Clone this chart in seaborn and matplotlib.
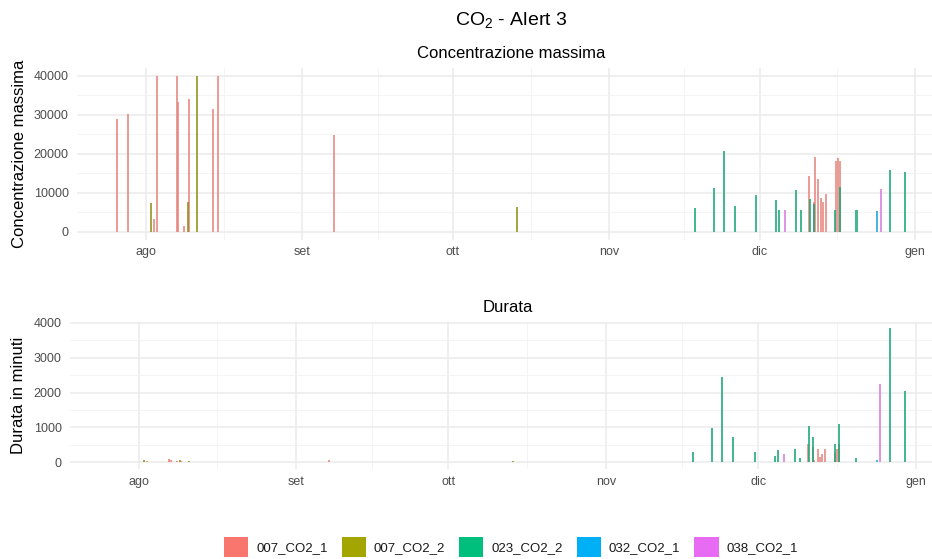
import numpy as np
import pandas as pd
import matplotlib
matplotlib.use("Agg")
import matplotlib.pyplot as plt
import seaborn as sns
from matplotlib.patches import Patch

# ---------------- data ----------------
series_names = ["007_CO2_1", "007_CO2_2", "023_CO2_2", "032_CO2_1", "038_CO2_1"]
series_colors = ["#F8766D", "#A3A500", "#00BF7D", "#00B0F6", "#E76BF3"]

event_time = [
    "2023-07-26 05:00", "2023-07-28 10:00", "2023-08-02 00:00", "2023-08-02 14:00",
    "2023-08-03 02:00", "2023-08-07 02:00", "2023-08-07 07:00", "2023-08-08 12:00",
    "2023-08-09 05:00", "2023-08-09 10:00", "2023-08-11 00:00", "2023-08-14 05:00",
    "2023-08-15 05:00", "2023-09-07 10:00", "2023-10-13 19:00", "2023-11-18 02:00",
    "2023-11-21 22:00", "2023-11-23 22:00", "2023-11-26 02:00", "2023-11-30 07:00",
    "2023-12-04 07:00", "2023-12-04 22:00", "2023-12-06 02:00", "2023-12-08 07:00",
    "2023-12-09 05:00", "2023-12-10 22:00", "2023-12-11 02:00", "2023-12-11 19:00",
    "2023-12-11 19:00", "2023-12-12 02:00", "2023-12-12 17:00", "2023-12-13 05:00",
    "2023-12-13 14:00", "2023-12-14 05:00", "2023-12-16 02:00", "2023-12-16 05:00",
    "2023-12-16 14:00", "2023-12-16 22:00", "2023-12-17 00:00", "2023-12-20 07:00",
    "2023-12-24 10:00", "2023-12-25 02:00", "2023-12-26 22:00", "2023-12-30 00:00",
]
event_sensor = [
    "007_CO2_1", "007_CO2_1", "007_CO2_2", "007_CO2_1",
    "007_CO2_1", "007_CO2_1", "007_CO2_1", "007_CO2_1",
    "007_CO2_2", "007_CO2_1", "007_CO2_2", "007_CO2_1",
    "007_CO2_1", "007_CO2_1", "007_CO2_2", "023_CO2_2",
    "023_CO2_2", "023_CO2_2", "023_CO2_2", "023_CO2_2",
    "023_CO2_2", "023_CO2_2", "038_CO2_1", "023_CO2_2",
    "023_CO2_2", "007_CO2_1", "023_CO2_2", "007_CO2_1",
    "023_CO2_2", "007_CO2_1", "007_CO2_1", "007_CO2_1",
    "007_CO2_1", "007_CO2_1", "023_CO2_2", "007_CO2_1",
    "007_CO2_1", "023_CO2_2", "007_CO2_1", "023_CO2_2",
    "032_CO2_1", "038_CO2_1", "023_CO2_2", "023_CO2_2",
]
max_concentration = [
    28800, 30300, 7300, 3300,
    40000, 40000, 33400, 1500,
    7600, 34000, 40000, 31400,
    40000, 24800, 6400, 6100,
    11300, 20800, 6700, 9300,
    8100, 5600, 5600, 10700,
    5600, 14200, 8400, 7600,
    7100, 19100, 13600, 8700,
    7700, 9600, 5500, 18100,
    18800, 11500, 18200, 5600,
    5300, 11000, 15800, 15300,
]
duration_min = [
    6, 8, 55, 40,
    12, 85, 60, 30,
    80, 50, 40, 8,
    10, 60, 40, 300,
    990, 2450, 730, 300,
    180, 340, 240, 370,
    120, 520, 1040, 440,
    730, 60, 370, 150,
    240, 380, 520, 280,
    390, 1110, 520, 120,
    60, 2240, 3840, 2040,
]

month_starts = ["2023-08-01", "2023-09-01", "2023-10-01", "2023-11-01", "2023-12-01", "2024-01-01"]
month_labels = ["ago", "set", "ott", "nov", "dic", "gen"]

conc_ticks = [0, 10000, 20000, 30000, 40000]
dur_ticks = [0, 1000, 2000, 3000, 4000]

# ---------------- prep ----------------
origin = pd.Timestamp(month_starts[0])
df = pd.DataFrame({
    "time": pd.to_datetime(event_time),
    "sensor": event_sensor,
    "conc": max_concentration,
    "dur": duration_min,
})
df["day"] = (df["time"] - origin) / pd.Timedelta(days=1)
month_pos = [(pd.Timestamp(m) - origin) / pd.Timedelta(days=1) for m in month_starts]
minor_pos = [(a + b) / 2 for a, b in zip(month_pos[:-1], month_pos[1:])]

uniq = np.unique(df["day"].values)
native_w = np.min(np.diff(uniq))
bar_days = 0.40
width_param = bar_days / native_w

# ---------------- style ----------------
sns.set_theme(style="white")
plt.rcParams["font.family"] = ["Liberation Sans", "DejaVu Sans"]
plt.rcParams["mathtext.fontset"] = "custom"
plt.rcParams["mathtext.rm"] = "Liberation Sans"
plt.rcParams["mathtext.it"] = "Liberation Sans:italic"

W, H = 932, 559
fig = plt.figure(figsize=(W / 100, H / 100), dpi=100)
fig.patch.set_facecolor("white")

ax1 = fig.add_axes([77 / W, 1 - 239.5 / H, 868 / W, 171.5 / H])
ax2 = fig.add_axes([70 / W, 1 - 469 / H, 875 / W, 147.4 / H])

palette = dict(zip(series_names, series_colors))

def draw(ax, ycol, yticks, ylim, xlim, title, ylabel, label_x_px, label_y_px, ax_left_px, ax_w_px, ax_top_px, ax_h_px):
    sns.barplot(data=df, x="day", y=ycol, hue="sensor", hue_order=series_names,
                palette=palette, native_scale=True, dodge=False, orient="x",
                width=width_param, alpha=0.8, linewidth=0, errorbar=None,
                legend=False, ax=ax)
    ax.set_xlim(*xlim)
    ax.set_ylim(*ylim)
    ax.set_xticks(month_pos)
    ax.set_xticklabels(month_labels)
    ax.set_xticks(minor_pos, minor=True)
    ax.set_yticks(yticks)
    ax.set_yticklabels([str(t) for t in yticks])
    ax.set_yticks([(a + b) / 2 for a, b in zip(yticks[:-1], yticks[1:])], minor=True)
    ax.grid(which="major", color="#EBEBEB", linewidth=1.1)
    ax.grid(which="minor", color="#F2F2F2", linewidth=0.6)
    ax.set_axisbelow(True)
    for s in ax.spines.values():
        s.set_visible(False)
    ax.tick_params(which="both", length=0)
    ax.tick_params(axis="x", pad=5, labelsize=9, labelcolor="#4D4D4D")
    ax.tick_params(axis="y", pad=6, labelsize=9, labelcolor="#4D4D4D")
    ax.set_xlabel("")
    ax.set_title(title, fontsize=12, pad=7, color="black")
    ax.set_ylabel(ylabel, fontsize=12, color="black", va="center")
    ax.yaxis.set_label_coords((label_x_px - ax_left_px) / ax_w_px,
                              (ax_top_px + ax_h_px - label_y_px) / ax_h_px)

draw(ax1, "conc", conc_ticks, (-2000, 42000), (-13.8, 158.9),
     "Concentrazione massima", "Concentrazione massima", 19, 153.5, 77, 868, 68, 171.5)
draw(ax2, "dur", dur_ticks, (-192, 4032), (-13.5, 158.8),
     "Durata", "Durata in minuti", 19, 395, 70, 875, 321.6, 147.4)

fig.text(511 / W, 1 - 20 / H, r"CO$_\mathrm{2}$ - Alert 3", ha="center", va="center",
         fontsize=14, color="black")

handles = [Patch(facecolor=c, edgecolor="none") for c in series_colors]
leg = fig.legend(handles, series_names, loc="center", bbox_to_anchor=(511 / W, 1 - 547 / H),
                 ncol=5, frameon=False, fontsize=9.5, handlelength=1.85, handleheight=1.85,
                 handletextpad=0.6, columnspacing=1.05, borderpad=0)
for t in leg.get_texts():
    t.set_color("#1A1A1A")

fig.savefig("out.png", dpi=100, facecolor="white")
